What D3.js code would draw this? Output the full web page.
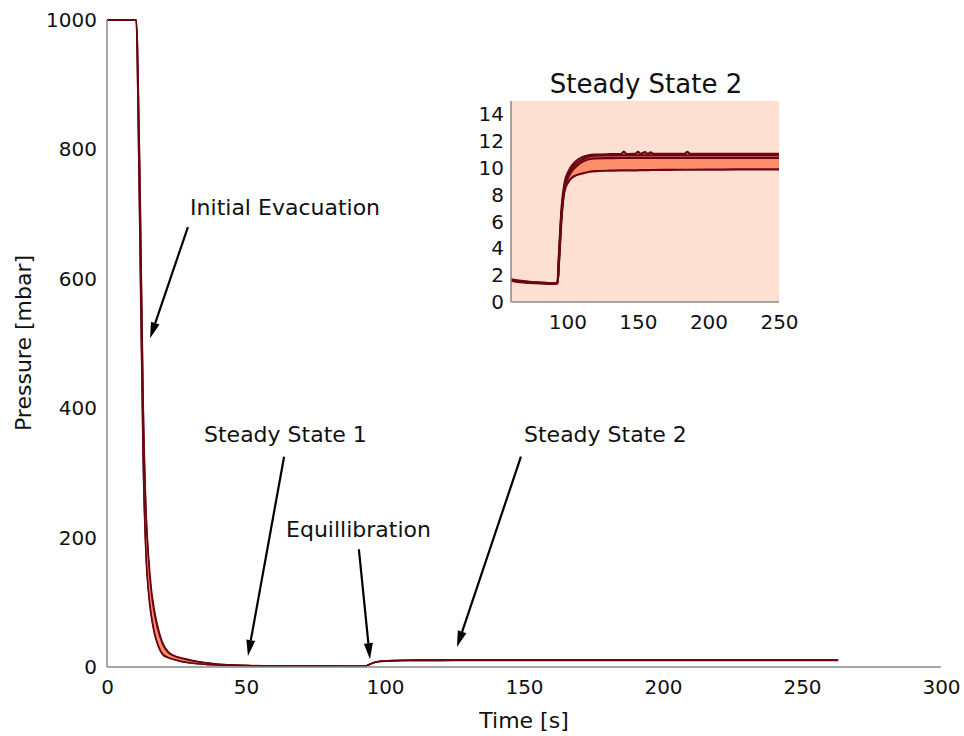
<!DOCTYPE html>
<meta charset="utf-8" />
<script src="https://d3js.org/d3.v7.min.js"></script>
<html>
    <head>
        <title>Pressure vs time</title>
        <style>
            body { margin: 0; background: #fff; }
            text { font-family: "DejaVu Sans", sans-serif; fill: #111; }
            .spine { stroke: #8a8a8a; stroke-width: 1.5; }
            .run { fill: none; stroke: #6b0712; stroke-linejoin: round; }
            .band { fill: #fc8e6c; stroke: none; }
        </style>
    </head>
    <body>
        <script>
            // sample times [s]
            const time = [0, 10.5, 11, 12, 13, 14, 15, 16, 17, 18, 20, 22, 24, 27, 30, 35, 40, 50,
                60, 70, 80, 90, 93, 94, 96, 98, 101, 103, 106, 110, 115, 120, 130, 138, 140, 142,
                148, 150, 152, 155, 157, 159, 161, 170, 183, 185, 187, 200, 220, 240, 263];

            // pressure [mbar] for each run
            const runA = [1000, 1000, 900, 600, 315, 170, 110, 75, 52, 37, 19, 14, 11.5, 8, 6, 4, 3, 2,
                1.6, 1.45, 1.4, 1.35, 1.4, 3.6, 7.2, 8.9, 9.8, 10.15, 10.5, 10.78, 10.95, 11.0, 11.03, 11.04, 11.22, 11.04,
                11.05, 11.2, 11.05, 11.18, 11.05, 11.16, 11.05, 11.05, 11.05, 11.2, 11.05, 11.05, 11.05, 11.05, 11.05];
            const runB = [1000, 1000, 910, 615, 325, 178, 115, 79, 55, 39, 20.5, 15, 12, 8.5, 6.4, 4.3, 3.2, 2.1,
                1.6, 1.5, 1.4, 1.35, 1.4, 3.3, 6.9, 8.7, 9.6, 9.95, 10.3, 10.6, 10.85, 10.92, 10.94, 10.95, 10.95, 10.95,
                10.95, 10.95, 10.95, 10.95, 10.95, 10.95, 10.95, 10.95, 10.95, 10.95, 10.95, 10.95, 10.95, 10.95, 10.95];
            const runC = [1000, 1000, 955, 705, 408, 240, 160, 112, 83, 62, 35, 22, 17, 13, 10, 6.5, 4.2, 2.5,
                1.65, 1.5, 1.45, 1.4, 1.4, 3.1, 6.7, 8.5, 9.4, 9.75, 10.1, 10.42, 10.65, 10.72, 10.74, 10.75, 10.75, 10.75,
                10.75, 10.75, 10.75, 10.75, 10.75, 10.75, 10.75, 10.75, 10.75, 10.75, 10.75, 10.75, 10.75, 10.75, 10.75];
            const runD = [1000, 1000, 960, 720, 420, 250, 170, 120, 90, 68, 38, 24, 18, 14, 11, 7, 4.5, 2.6,
                1.7, 1.55, 1.45, 1.4, 1.45, 2.9, 6.5, 8.3, 9.0, 9.25, 9.45, 9.58, 9.7, 9.76, 9.8, 9.82, 9.82, 9.82,
                9.83, 9.83, 9.84, 9.84, 9.84, 9.85, 9.85, 9.86, 9.87, 9.87, 9.87, 9.88, 9.89, 9.9, 9.9];
            const runs = [runA, runB, runC, runD];

            const xTicks = [0, 50, 100, 150, 200, 250, 300];
            const yTicks = [0, 200, 400, 600, 800, 1000];
            const insetXTicks = [100, 150, 200, 250];
            const insetYTicks = [0, 2, 4, 6, 8, 10, 12, 14];

            // annotation anchors in data coordinates: text position, arrow tail, arrow tip
            const notes = [
                { label: "Initial Evacuation", text: [29.9, 698], tail: [29.1, 680], tip: [15.5, 508] },
                { label: "Steady State 1", text: [34.9, 348], tail: [63.7, 325], tip: [50.7, 17] },
                { label: "Equillibration", text: [64.4, 201], tail: [90.6, 182], tip: [94.6, 12] },
                { label: "Steady State 2", text: [150, 348], tail: [148.9, 325], tip: [125.9, 31] },
            ];

            const width = 964,
                height = 736;

            const svg = d3
                .select("body")
                .append("svg")
                .attr("width", width)
                .attr("height", height);

            const rows = time.map((t, i) => {
                const v = runs.map((r) => r[i]);
                return { t: t, lo: d3.min(v), hi: d3.max(v) };
            });

            // ---- main axes ----
            const x = d3.scaleLinear().domain([0, 300]).range([107, 941]);
            const y = d3.scaleLinear().domain([0, 1000]).range([667, 20]);

            svg.append("path")
                .datum(rows)
                .attr("class", "band")
                .attr("d", d3.area().curve(d3.curveMonotoneX)
                    .x((d) => x(d.t)).y0((d) => y(d.lo)).y1((d) => y(d.hi)));

            const mainLine = d3.line().curve(d3.curveMonotoneX)
                .x((d, i) => x(time[i])).y((d) => y(d));
            svg.append("g")
                .selectAll("path")
                .data(runs)
                .enter()
                .append("path")
                .attr("class", "run")
                .attr("stroke-width", 1.4)
                .attr("d", mainLine);

            svg.append("line").attr("class", "spine")
                .attr("x1", x(0)).attr("x2", x(0)).attr("y1", y(0)).attr("y2", y(1000));
            svg.append("line").attr("class", "spine")
                .attr("x1", x(0)).attr("x2", x(300)).attr("y1", y(0)).attr("y2", y(0));

            const xAxis = svg.append("g")
                .attr("transform", `translate(0,${y(0)})`)
                .call(d3.axisBottom(x).tickValues(xTicks).tickFormat(d3.format("d")).tickSize(0).tickPadding(13));
            const yAxis = svg.append("g")
                .attr("transform", `translate(${x(0)},0)`)
                .call(d3.axisLeft(y).tickValues(yTicks).tickFormat(d3.format("d")).tickSize(0).tickPadding(10));
            [xAxis, yAxis].forEach((g) => {
                g.select(".domain").remove();
                g.selectAll("text").style("font-size", "20px").style("font-family", "DejaVu Sans").attr("fill", "#111");
            });

            svg.append("text")
                .attr("x", 524)
                .attr("y", 728)
                .attr("text-anchor", "middle")
                .style("font-size", "22px")
                .text("Time [s]");

            svg.append("text")
                .attr("transform", "translate(31,343) rotate(-90)")
                .attr("text-anchor", "middle")
                .style("font-size", "22px")
                .text("Pressure [mbar]");

            // ---- annotations ----
            notes.forEach((n) => {
                svg.append("text")
                    .attr("x", x(n.text[0]))
                    .attr("y", y(n.text[1]))
                    .style("font-size", "22px")
                    .text(n.label);

                const x0 = x(n.tail[0]), y0 = y(n.tail[1]);
                const x1 = x(n.tip[0]), y1 = y(n.tip[1]);
                const len = Math.hypot(x1 - x0, y1 - y0);
                const ux = (x1 - x0) / len, uy = (y1 - y0) / len;
                const hl = 16, hw = 4.5;
                const bx = x1 - ux * hl, by = y1 - uy * hl;
                svg.append("line")
                    .attr("x1", x0).attr("y1", y0).attr("x2", bx).attr("y2", by)
                    .attr("stroke", "#000").attr("stroke-width", 2.2);
                svg.append("path")
                    .attr("d", `M${x1},${y1}L${bx - uy * hw},${by + ux * hw}L${bx + uy * hw},${by - ux * hw}Z`)
                    .attr("fill", "#000");
            });

            // ---- inset ----
            const ix = d3.scaleLinear().domain([60, 250]).range([511, 779]);
            const iy = d3.scaleLinear().domain([0, 15]).range([302, 101]);

            svg.append("rect")
                .attr("x", ix(60)).attr("y", iy(15))
                .attr("width", ix(250) - ix(60)).attr("height", iy(0) - iy(15))
                .attr("fill", "#fde0d2");

            svg.append("clipPath").attr("id", "insetClip")
                .append("rect")
                .attr("x", ix(60)).attr("y", iy(15))
                .attr("width", ix(250) - ix(60)).attr("height", iy(0) - iy(15));

            const inset = svg.append("g").attr("clip-path", "url(#insetClip)");
            inset.append("path")
                .datum(rows)
                .attr("class", "band")
                .attr("d", d3.area().curve(d3.curveMonotoneX)
                    .x((d) => ix(d.t)).y0((d) => iy(d.lo)).y1((d) => iy(d.hi)));
            inset.selectAll("path.run")
                .data(runs)
                .enter()
                .append("path")
                .attr("class", "run")
                .attr("stroke-width", 2.2)
                .attr("d", d3.line().curve(d3.curveMonotoneX)
                    .x((d, i) => ix(time[i])).y((d) => iy(d)));

            svg.append("line").attr("class", "spine")
                .attr("x1", ix(60)).attr("x2", ix(60)).attr("y1", iy(0)).attr("y2", iy(15));
            svg.append("line").attr("class", "spine")
                .attr("x1", ix(60)).attr("x2", ix(250)).attr("y1", iy(0)).attr("y2", iy(0));

            const ixAxis = svg.append("g")
                .attr("transform", `translate(0,${iy(0)})`)
                .call(d3.axisBottom(ix).tickValues(insetXTicks).tickSize(0).tickPadding(13));
            const iyAxis = svg.append("g")
                .attr("transform", `translate(${ix(60)},0)`)
                .call(d3.axisLeft(iy).tickValues(insetYTicks).tickSize(0).tickPadding(7));
            [ixAxis, iyAxis].forEach((g) => {
                g.select(".domain").remove();
                g.selectAll("text").style("font-size", "20px").style("font-family", "DejaVu Sans").attr("fill", "#111");
            });

            svg.append("text")
                .attr("x", 646)
                .attr("y", 93)
                .attr("text-anchor", "middle")
                .style("font-size", "26px")
                .text("Steady State 2");
        </script>
    </body>
</html>
